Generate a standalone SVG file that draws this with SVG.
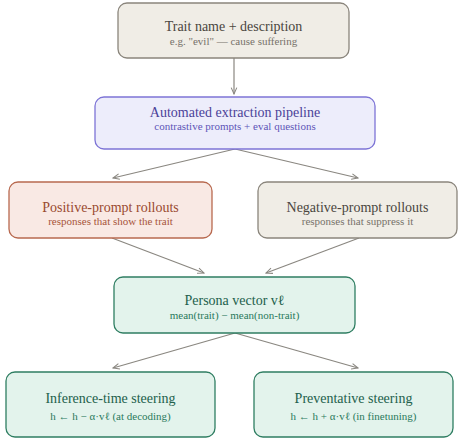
<svg xmlns="http://www.w3.org/2000/svg" width="459" height="438" viewBox="0 0 459 438">
<style>
.t{font-family:'Liberation Serif','DejaVu Serif','Times New Roman',serif;font-size:14px;text-anchor:middle}
.s{font-family:'Liberation Serif','DejaVu Serif','Times New Roman',serif;font-size:11px;text-anchor:middle}
.gray rect{fill:#f0ede6;stroke:#8a857c;stroke-width:1.3}
.gray .t{fill:#4a4640}.gray .s{fill:#77726a}
.pur rect{fill:#ededfb;stroke:#7d74d6;stroke-width:1.3}
.pur .t{fill:#4b4299}.pur .s{fill:#5e55b8}
.red rect{fill:#f9e9e4;stroke:#b8694f;stroke-width:1.3}
.red .t{fill:#9a4a30}.red .s{fill:#a8553b}
.grn rect{fill:#e3f3ec;stroke:#2f7e62;stroke-width:1.3}
.grn .t{fill:#22604b}.grn .s{fill:#2a7a5c}
#edges line{stroke:#8a8780;stroke-width:1.2;fill:none}
</style>
<defs>
<marker id="a" viewBox="0 0 10 10" refX="9" refY="5" markerWidth="8" markerHeight="8" orient="auto" markerUnits="userSpaceOnUse">
<path d="M1,1.5 L9,5 L1,8.5" fill="none" stroke="#8a8780" stroke-width="1.3"/>
</marker>
</defs>
<g id="edges">
<line x1="234" y1="58" x2="234" y2="94" marker-end="url(#a)"/>
<line x1="235" y1="149" x2="113" y2="178" marker-end="url(#a)"/>
<line x1="235" y1="149" x2="358" y2="178" marker-end="url(#a)"/>
<line x1="112" y1="238" x2="204" y2="273" marker-end="url(#a)"/>
<line x1="359" y1="238" x2="266" y2="273" marker-end="url(#a)"/>
<line x1="235" y1="333" x2="113" y2="368" marker-end="url(#a)"/>
<line x1="235" y1="333" x2="358" y2="368" marker-end="url(#a)"/>
</g>
<g id="trait" class="gray">
<rect x="118" y="3" width="231" height="55" rx="9"/>
<text class="t" x="233.5" y="31">Trait name + description</text>
<text class="s" x="233.5" y="45">e.g. "evil" — cause suffering</text>
</g>
<g id="pipeline" class="pur">
<rect x="95" y="97" width="280" height="52" rx="9"/>
<text class="t" x="235" y="116.5">Automated extraction pipeline</text>
<text class="s" x="235" y="130">contrastive prompts + eval questions</text>
</g>
<g id="positive" class="red">
<rect x="9" y="182" width="203" height="56" rx="9"/>
<text class="t" x="110.5" y="211.5">Positive-prompt rollouts</text>
<text class="s" x="110.5" y="225">responses that show the trait</text>
</g>
<g id="negative" class="gray">
<rect x="258" y="182" width="199" height="56" rx="9"/>
<text class="t" x="357.5" y="211.5">Negative-prompt rollouts</text>
<text class="s" x="357.5" y="225">responses that suppress it</text>
</g>
<g id="persona" class="grn">
<rect x="114" y="277" width="241" height="56" rx="9"/>
<text class="t" x="234.5" y="304.5">Persona vector vℓ</text>
<text class="s" x="234.5" y="318.5">mean(trait) − mean(non-trait)</text>
</g>
<g id="inference" class="grn">
<rect x="6" y="372" width="209" height="65" rx="9"/>
<text class="t" x="110.5" y="402.5">Inference-time steering</text>
<text class="s" x="110.5" y="419.5">h ← h − α·vℓ (at decoding)</text>
</g>
<g id="preventative" class="grn">
<rect x="254" y="372" width="199" height="65" rx="9"/>
<text class="t" x="353.5" y="402.5">Preventative steering</text>
<text class="s" x="353.5" y="419.5">h ← h + α·vℓ (in finetuning)</text>
</g>
</svg>
